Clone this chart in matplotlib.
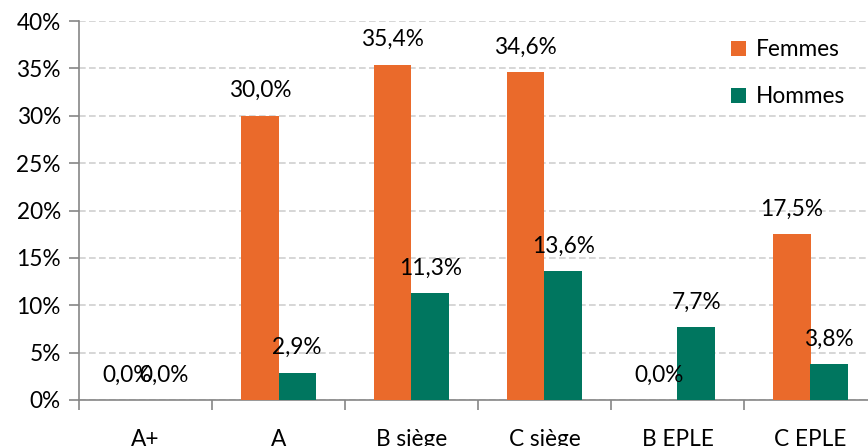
import matplotlib
matplotlib.use("Agg")
import matplotlib.pyplot as plt
import numpy as np

categories = ["A+", "A", "B siège", "C siège", "B EPLE", "C EPLE"]
femmes = [0.0, 30.0, 35.4, 34.6, 0.0, 17.5]
hommes = [0.0, 2.9, 11.3, 13.6, 7.7, 3.8]
yticks = [0, 5, 10, 15, 20, 25, 30, 35, 40]

plt.rcParams['font.family'] = ['Lato', 'DejaVu Sans']
FS = 16.3
c_f = "#EA6A2B"
c_h = "#00765F"

fig = plt.figure(figsize=(8.68, 4.46), dpi=100)
W, H = 868, 446
left, right, top, bottom = 79, 877, 21, 400
ax = fig.add_axes([left / W, 1 - bottom / H, (right - left) / W, (bottom - top) / H])

x = np.arange(len(categories))
bw = 0.28
ax.bar(x - bw / 2, femmes, bw, color=c_f, label="Femmes", zorder=3)
ax.bar(x + bw / 2, hommes, bw, color=c_h, label="Hommes", zorder=3)

def fmt(v):
    return f"{v:.1f}".replace(".", ",") + "%"

for xi, v in zip(x, femmes):
    ax.annotate(fmt(v), (xi - bw / 2, v), xytext=(0, 25 * 72 / 100), textcoords="offset points",
                ha="center", va="center", fontsize=FS, color="black")
for xi, v in zip(x, hommes):
    ax.annotate(fmt(v), (xi + bw / 2, v), xytext=(0, 25 * 72 / 100), textcoords="offset points",
                ha="center", va="center", fontsize=FS, color="black")

ax.set_xlim(-0.5, len(categories) - 0.5)
ax.set_ylim(0, 40)
ax.set_yticks(yticks)
ax.set_yticklabels([f"{t}%" for t in yticks], fontsize=FS)
ax.yaxis.grid(True, color="#D0D0D0", linestyle=(0, (4, 2)), linewidth=1.2, zorder=0)

ax.set_xticks(x)
ax.set_xticklabels(categories, fontsize=FS)
ax.tick_params(axis="x", length=0, pad=21)
ax.set_xticks(np.arange(-0.5, len(categories), 1), minor=True)
ax.tick_params(axis="x", which="minor", length=7, color="#868686", width=1.2)
ax.tick_params(axis="y", length=7, color="#868686", width=1.2, pad=6)

for s in ["top", "right"]:
    ax.spines[s].set_visible(False)
for s in ["left", "bottom"]:
    ax.spines[s].set_color("#868686")
    ax.spines[s].set_linewidth(1.2)

leg = ax.legend(loc="upper left", bbox_to_anchor=((722 - left) / (right - left), (bottom - 30) / (bottom - top)),
                frameon=False, fontsize=FS, handlelength=0.65, handleheight=0.65,
                handletextpad=0.45, labelspacing=1.15, borderaxespad=0)

fig.savefig("out.png", dpi=100)
